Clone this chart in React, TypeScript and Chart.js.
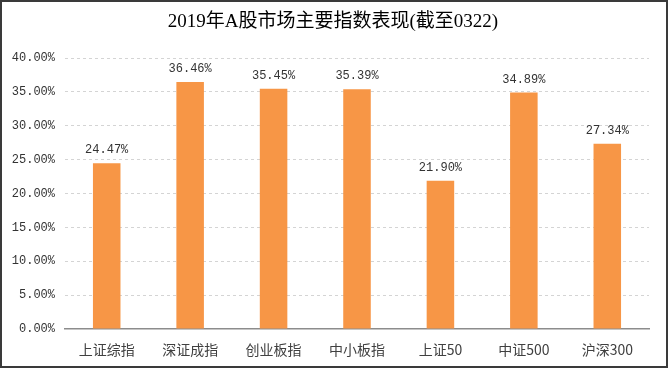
import React, { useEffect, useRef } from "react";
import { Chart, registerables } from "chart.js";

Chart.register(...registerables);

const categories = ["上证综指", "深证成指", "创业板指", "中小板指", "上证50", "中证500", "沪深300"];
const values = [24.47, 36.46, 35.45, 35.39, 21.9, 34.89, 27.34];
const yTicks = [0, 5, 10, 15, 20, 25, 30, 35, 40];
const titleText = "2019年A股市场主要指数表现(截至0322)";

const MONO = "'Liberation Mono', 'DejaVu Sans Mono', monospace";

const decorPlugin = {
  id: "decor",
  beforeDraw(chart: any) {
    const ctx = chart.ctx;
    ctx.save();
    ctx.fillStyle = "#ffffff";
    ctx.fillRect(0, 0, chart.width, chart.height);
    ctx.restore();
  },
  afterDraw(chart: any) {
    const ctx = chart.ctx;
    ctx.save();
    // title
    ctx.fillStyle = "#000000";
    ctx.font = "19px 'Liberation Serif', 'Noto Sans CJK SC', serif";
    ctx.textAlign = "center";
    ctx.textBaseline = "middle";
    ctx.fillText(titleText, 333, 22);
    // value labels
    const meta = chart.getDatasetMeta(0);
    ctx.font = "12px " + MONO;
    ctx.fillStyle = "#333333";
    ctx.textBaseline = "alphabetic";
    meta.data.forEach((bar: any, i: number) => {
      ctx.fillText(values[i].toFixed(2) + "%", bar.x, bar.y - 10);
    });
    // border
    ctx.strokeStyle = "#3a3a3a";
    ctx.lineWidth = 2;
    ctx.strokeRect(1, 1, chart.width - 2, chart.height - 2);
    ctx.restore();
  },
};

export default function App() {
  const ref = useRef<HTMLCanvasElement>(null);
  useEffect(() => {
    document.body.style.margin = "0";
    const chart = new Chart(ref.current!, {
      type: "bar",
      data: {
        labels: categories,
        datasets: [
          {
            data: values,
            backgroundColor: "#F79646",
            barPercentage: 0.33,
            categoryPercentage: 1,
          },
        ],
      },
      options: {
        animation: false,
        responsive: false,
        devicePixelRatio: 1,
        layout: { padding: { left: 2, right: 19, top: 58, bottom: 2 } },
        plugins: { legend: { display: false }, title: { display: false }, tooltip: { enabled: false } },
        scales: {
          x: {
            grid: { display: false, drawTicks: false },
            border: { display: true, color: "#8c8c8c", width: 1.5 },
            ticks: {
              color: "#404040",
              padding: 12,
              font: { family: "'Noto Sans CJK SC', sans-serif", size: 14 },
            },
            afterFit: (s: any) => {
              s.height = 37;
            },
          },
          y: {
            min: 0,
            max: 40,
            afterBuildTicks: (s: any) => {
              s.ticks = yTicks.map((v) => ({ value: v }));
            },
            grid: {
              color: (c: any) => (c.tick && c.tick.value === 0 ? "rgba(0,0,0,0)" : "#d4d4d4"),
              drawTicks: false,
              lineWidth: 1,
            },
            border: { display: false, dash: [3, 3] },
            ticks: {
              color: "#333333",
              padding: 10,
              font: { family: MONO, size: 12 },
              callback: (v: any) => Number(v).toFixed(2) + "%",
            },
            afterFit: (s: any) => {
              s.width = 63;
            },
          },
        },
      },
      plugins: [decorPlugin],
    } as any);
    return () => chart.destroy();
  }, []);
  return <canvas ref={ref} width={668} height={368} style={{ display: "block" }} />;
}
